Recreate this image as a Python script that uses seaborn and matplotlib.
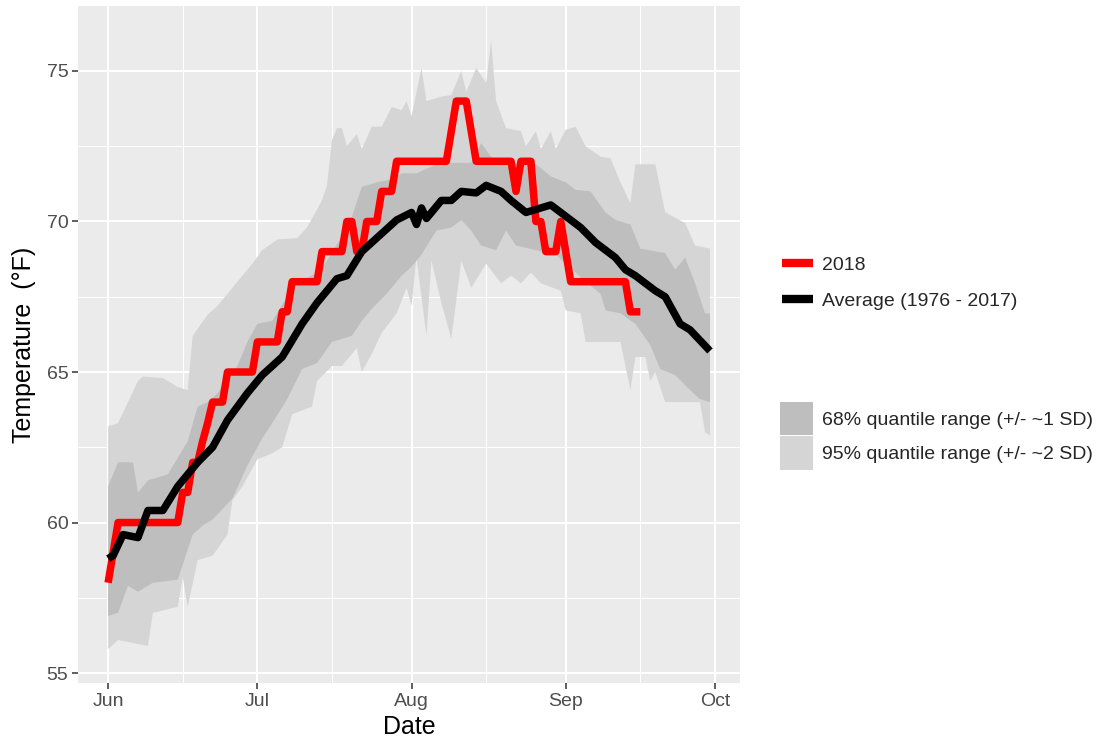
import numpy as np
import pandas as pd
import matplotlib
matplotlib.use("Agg")
import matplotlib.pyplot as plt
import matplotlib.dates as mdates
from matplotlib.lines import Line2D
from matplotlib.patches import Patch
from matplotlib.ticker import MultipleLocator
import seaborn as sns

# ----------------------------------------------------------------------
# data, days counted from Jun 1
# ----------------------------------------------------------------------
START = pd.Timestamp("2018-06-01")

# 2018 daily temperature, Jun 1 .. Sep 16
temp_2018 = [
    58, 59, 60, 60, 60, 60, 60, 60, 60, 60, 60, 60, 60, 60, 60, 61, 61, 62, 62, 62.7,
    63.3, 64, 64, 64, 65, 65, 65, 65, 65, 65, 66, 66, 66, 66, 66, 67, 67, 68, 68, 68,
    68, 68, 68, 69, 69, 69, 69, 69, 70, 70, 69, 69, 70, 70, 70, 71, 71, 71, 72, 72,
    72, 72, 72, 72, 72, 72, 72, 72, 72, 73, 74, 74, 74, 73, 72, 72, 72, 72, 72, 72,
    72, 72, 71, 72, 72, 72, 70, 70, 69, 69, 69, 70, 69, 68, 68, 68, 68, 68, 68, 68,
    68, 68, 68, 68, 68, 67, 67, 67,
]
day_2018 = list(range(len(temp_2018)))

# average 1976 - 2017
avg_day = [0, 1, 3, 6, 8, 11, 14, 18, 21, 24, 28, 31, 35, 39, 42, 46, 48, 51, 55, 58,
           61, 62, 63, 64, 67, 69, 71, 74, 76, 79, 81, 84, 87, 89, 91, 95, 98, 102,
           104, 106, 110, 112, 115, 117, 121]
avg_temp = [58.8, 58.9, 59.6, 59.5, 60.4, 60.4, 61.2, 62.0, 62.5, 63.4, 64.3, 64.9,
            65.5, 66.6, 67.3, 68.1, 68.2, 69.0, 69.6, 70.05, 70.3, 69.9, 70.45, 70.1,
            70.7, 70.7, 71.0, 70.95, 71.2, 71.0, 70.7, 70.3, 70.45, 70.55, 70.3, 69.8,
            69.3, 68.8, 68.4, 68.2, 67.7, 67.5, 66.6, 66.4, 65.7]

# 95% quantile range
u95_day = [0, 2, 6, 7, 11, 14, 16, 17, 20, 22, 24, 26, 29, 31, 34, 38, 40, 43, 44, 45,
           46, 47, 48, 50, 51, 53, 55, 57, 59, 60, 61, 63, 64, 67, 69, 71, 72, 74, 76,
           77, 78, 80, 83, 84, 86, 87, 89, 90, 92, 94, 96, 99, 101, 103, 105, 106, 110,
           112, 116, 118, 121]
u95 = [63.2, 63.3, 64.7, 64.85, 64.8, 64.5, 64.4, 66.2, 66.9, 67.2, 67.6, 68.0, 68.6,
       69.05, 69.4, 69.45, 69.8, 70.7, 71.2, 72.7, 73.1, 73.1, 72.5, 72.9, 72.4, 73.15,
       73.15, 73.8, 73.7, 74.0, 73.5, 75.1, 74.0, 74.15, 74.2, 75.0, 74.3, 75.1, 74.6,
       76.0, 74.0, 73.1, 73.0, 72.5, 73.0, 72.4, 73.0, 72.4, 73.05, 73.15, 72.5, 72.15,
       72.1, 71.3, 70.6, 71.9, 71.9, 70.3, 69.95, 69.2, 69.1]
l95_day = [0, 2, 8, 9, 14, 15, 16, 18, 21, 24, 25, 27, 30, 33, 35, 37, 41, 42, 45, 47,
           50, 51, 53, 55, 58, 60, 61, 62, 63, 64, 65, 67, 69, 71, 73, 76, 79, 81, 83,
           85, 87, 91, 92, 95, 96, 103, 105, 106, 108, 109, 110, 112, 119, 120, 121]
l95 = [55.8, 56.1, 55.9, 57.0, 57.2, 58.2, 57.2, 58.75, 58.9, 59.6, 60.75, 61.2, 62.1,
       62.3, 62.5, 63.6, 63.85, 64.7, 65.2, 65.2, 65.8, 65.0, 65.6, 66.3, 66.95, 67.8,
       67.2, 68.8, 67.5, 66.2, 68.7, 67.3, 66.1, 68.7, 67.8, 68.6, 67.95, 68.2, 67.95,
       68.3, 67.95, 67.7, 67.05, 66.95, 66.0, 66.0, 64.4, 65.5, 65.5, 64.7, 65.0, 64.0,
       64.0, 63.0, 62.9]

# 68% quantile range
u68_day = [0, 2, 5, 6, 8, 12, 16, 18, 20, 22, 26, 28, 30, 33, 36, 39, 42, 44, 47, 49,
           51, 54, 57, 59, 62, 66, 69, 73, 75, 77, 80, 86, 89, 92, 94, 97, 100, 102,
           105, 107, 112, 114, 116, 118, 120, 121]
u68 = [61.2, 62.0, 62.0, 61.0, 61.4, 61.6, 62.7, 63.85, 64.0, 64.3, 65.2, 66.0, 66.6,
       66.7, 67.5, 68.05, 68.3, 68.7, 69.5, 70.15, 71.15, 71.3, 71.4, 71.6, 71.6, 71.9,
       71.95, 71.95, 72.6, 72.15, 71.95, 71.9, 71.5, 71.3, 71.05, 71.0, 70.3, 70.05,
       69.9, 69.1, 68.95, 68.4, 68.8, 67.95, 66.95, 66.95]
l68_day = [0, 2, 4, 6, 9, 14, 16, 17, 19, 21, 25, 28, 31, 33, 36, 39, 42, 45, 49, 51,
           53, 56, 59, 61, 63, 66, 69, 71, 73, 75, 78, 80, 82, 86, 90, 92, 96, 99, 100,
           103, 106, 109, 111, 114, 117, 119, 121]
l68 = [56.9, 57.0, 57.9, 57.7, 58.0, 58.1, 59.1, 59.6, 59.9, 60.1, 60.8, 61.9, 62.8,
       63.3, 64.1, 65.1, 65.3, 66.0, 66.2, 66.7, 67.1, 67.6, 68.2, 68.5, 68.9, 69.7,
       69.8, 70.05, 69.7, 69.2, 69.05, 69.7, 69.2, 69.05, 68.9, 68.6, 68.0, 67.6, 67.05,
       66.95, 66.6, 65.9, 65.1, 64.9, 64.4, 64.1, 64.0]

month_ticks = ["2018-06-01", "2018-07-01", "2018-08-01", "2018-09-01", "2018-10-01"]


def to_dates(days):
    return START + pd.to_timedelta(days, unit="D")


def to_num(days):
    return mdates.date2num(to_dates(days).to_numpy())


# ----------------------------------------------------------------------
# plot
# ----------------------------------------------------------------------
sns.set_theme(style="darkgrid")
plt.rcParams["font.family"] = ["Liberation Sans", "DejaVu Sans"]

fig = plt.figure(figsize=(10.99, 7.44), dpi=100)
ax = fig.add_axes([0.071, 0.082, 0.6024, 0.910])
ax.set_facecolor("#EBEBEB")

light = "#D5D5D5"
dark = "#BEBEBE"

# quantile bands as polygons
ax.fill(np.concatenate([to_num(u95_day), to_num(l95_day)[::-1]]),
        np.concatenate([u95, l95[::-1]]), color=light, lw=0, zorder=1)
ax.fill(np.concatenate([to_num(u68_day), to_num(l68_day)[::-1]]),
        np.concatenate([u68, l68[::-1]]), color=dark, lw=0, zorder=2)

sns.lineplot(x=to_dates(day_2018), y=temp_2018, color="#FF0000", linewidth=5.4,
             ax=ax, zorder=3, solid_joinstyle="round", solid_capstyle="butt")
sns.lineplot(x=to_dates(avg_day), y=avg_temp, color="black", linewidth=5.4,
             ax=ax, zorder=4, solid_joinstyle="round", solid_capstyle="butt")

ax.set_xlim(to_num([-6.05])[0], to_num([127.05])[0])
ax.set_ylim(54.67, 77.16)
ax.set_xticks(pd.to_datetime(month_ticks))
ax.xaxis.set_major_formatter(mdates.DateFormatter("%b"))
ax.xaxis.set_minor_locator(mdates.MonthLocator(bymonthday=16))
ax.set_yticks([55, 60, 65, 70, 75])
ax.yaxis.set_minor_locator(MultipleLocator(2.5))

ax.grid(which="major", color="white", linewidth=1.5)
ax.grid(which="minor", color="white", linewidth=0.75)
for s in ax.spines.values():
    s.set_visible(False)

ax.tick_params(which="major", length=4, width=1.1, color="#333333",
               labelsize=14, labelcolor="#4D4D4D", pad=3, bottom=True, left=True)
ax.tick_params(which="minor", length=0)

ax.set_xlabel("Date", fontsize=18, color="black")
ax.set_ylabel("Temperature  (\u00b0F)", fontsize=18, color="black")
ax.xaxis.set_label_coords(0.5, -0.048)
ax.yaxis.set_label_coords(-0.064, 0.5)

# legends
line_handles = [Line2D([], [], color="#FF0000", lw=6, solid_capstyle="butt"),
                Line2D([], [], color="black", lw=6, solid_capstyle="butt")]
fig.legend(handles=line_handles, labels=["2018", "Average (1976 - 2017)"],
           loc="center left", bbox_to_anchor=(0.7115, 0.6196), frameon=False,
           fontsize=14, handlelength=1.6, handletextpad=0.45, labelspacing=0.92,
           borderpad=0, borderaxespad=0)

fill_handles = [Patch(facecolor=dark, edgecolor="none"),
                Patch(facecolor=light, edgecolor="none")]
fig.legend(handles=fill_handles,
           labels=["68% quantile range (+/- ~1 SD)", "95% quantile range (+/- ~2 SD)"],
           loc="center left", bbox_to_anchor=(0.7097, 0.414), frameon=False,
           fontsize=14, handlelength=1.7, handleheight=2.3, handletextpad=0.45,
           labelspacing=0.05, borderpad=0, borderaxespad=0)

fig.savefig("out.png", dpi=100)
plt.close(fig)
